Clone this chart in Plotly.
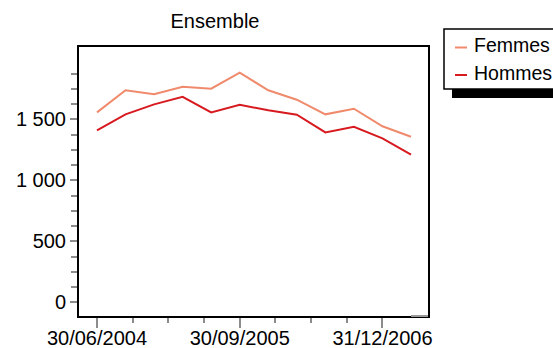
import plotly.graph_objects as go

# Quarterly observation dates
dates = ["30/06/2004", "30/09/2004", "31/12/2004", "31/03/2005",
         "30/06/2005", "30/09/2005", "31/12/2005", "31/03/2006",
         "30/06/2006", "30/09/2006", "31/12/2006", "31/03/2007"]
femmes = [1557, 1738, 1705, 1767, 1751, 1882, 1738, 1661, 1541, 1587, 1443, 1357]
hommes = [1410, 1541, 1623, 1685, 1557, 1620, 1574, 1538, 1393, 1439, 1344, 1210]

series_names = ["Femmes", "Hommes"]
colors = ["#F08A6C", "#D71A1F"]

# x-axis: labelled dates and intermediate tick positions (quarter index)
x_label_idx = [0, 5, 10]
x_minor_idx = [1.25, 2.5, 3.75, 6.25, 7.5, 8.75]
y_major = [0, 500, 1000, 1500]
y_major_text = ["0", "500", "1 000", "1 500"]
y_minor = [125, 250, 375, 625, 750, 875, 1125, 1250, 1375, 1625, 1750, 1875]

x = list(range(len(dates)))
FONT = "Liberation Sans, Arial, sans-serif"

fig = go.Figure()
for name, vals, col in zip(series_names, [femmes, hommes], colors):
    fig.add_trace(go.Scatter(
        x=x, y=vals, mode="lines", name=name,
        line=dict(color=col, width=2),
        customdata=dates, hovertemplate="%{customdata}: %{y}<extra>" + name + "</extra>",
        showlegend=False,
    ))

fig.update_layout(
    width=553, height=348,
    margin=dict(l=79, r=125, t=47, b=32, autoexpand=False),
    paper_bgcolor="white", plot_bgcolor="white",
    font=dict(family=FONT, size=20, color="black"),
    title=dict(text="Ensemble", x=215 / 553, xanchor="center",
               y=1 - 21 / 348, yanchor="middle",
               font=dict(family=FONT, size=20, color="black")),
    xaxis=dict(
        range=[-0.63, 11.595], showgrid=False, zeroline=False,
        showline=True, linecolor="black", linewidth=2, mirror=True,
        tickmode="array", tickvals=x_label_idx,
        ticktext=[dates[i] for i in x_label_idx],
        ticks="outside", ticklen=10, tickwidth=2, tickcolor="#8c8c8c",
        ticklabelstandoff=-7,
        minor=dict(tickmode="array", tickvals=x_minor_idx, ticks="outside",
                   ticklen=5, tickwidth=2, tickcolor="#8c8c8c", showgrid=False),
        tickfont=dict(family=FONT, size=20, color="black"),
    ),
    yaxis=dict(
        range=[-112, 2093], showgrid=False, zeroline=False,
        showline=True, linecolor="black", linewidth=2, mirror=True,
        tickmode="array", tickvals=y_major, ticktext=y_major_text,
        ticks="outside", ticklen=7, tickwidth=1.5, tickcolor="#8c8c8c",
        minor=dict(tickmode="array", tickvals=y_minor, ticks="outside",
                   ticklen=6, tickwidth=1.5, tickcolor="#8c8c8c", showgrid=False),
        tickfont=dict(family=FONT, size=20, color="black"),
    ),
)

# grey end of the bottom frame past the last observation
fig.add_shape(type="line", xref="x", yref="paper", x0=len(dates) - 1, x1=11.595,
              y0=0, y1=0, line=dict(color="#9a9a9a", width=2))

# Legend box with drop shadow, drawn in pixel-like paper coordinates
PW, PH, L, T = 553 - 79 - 125, 348 - 47 - 32, 79, 47


def px(xp):
    return (xp - L) / PW


def py(yp):
    return (T + PH - yp) / PH


fig.add_shape(type="rect", xref="paper", yref="paper",
              x0=px(452), x1=px(580), y0=py(98), y1=py(89),
              fillcolor="black", line=dict(width=0), layer="above")
fig.add_shape(type="rect", xref="paper", yref="paper",
              x0=px(444), x1=px(580), y0=py(89), y1=py(29),
              fillcolor="white", line=dict(color="black", width=1.5), layer="above")
for i, (name, col) in enumerate(zip(series_names, colors)):
    yline = 47.5 + i * 27.5
    fig.add_shape(type="line", xref="paper", yref="paper",
                  x0=px(455), x1=px(467), y0=py(yline), y1=py(yline),
                  line=dict(color=col, width=2), layer="above")
    fig.add_annotation(xref="paper", yref="paper", x=px(472), y=py(yline - 2),
                       text=name, showarrow=False, xanchor="left", yanchor="middle",
                       font=dict(family=FONT, size=19.5, color="black"))

fig.write_html("out.html")
